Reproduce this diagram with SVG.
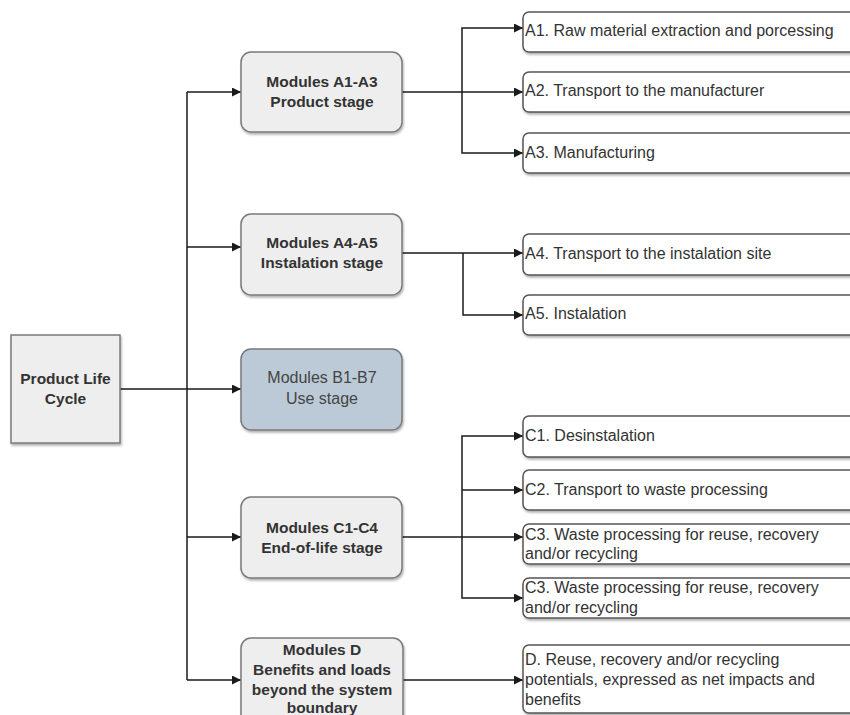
<svg xmlns="http://www.w3.org/2000/svg" width="850" height="715" viewBox="0 0 850 715">
<style>
.mod{fill:#eeeeee;stroke:#7a7a7a;stroke-width:1.5}
.use{fill:#bccad7;stroke:#7a7a7a;stroke-width:1.5}
.leaf{fill:#ffffff;stroke:#555555;stroke-width:1.5}
.bt{font-family:"Liberation Sans",Arial,sans-serif;font-size:15.5px;font-weight:bold;fill:#333333;text-anchor:middle}
.nt{font-family:"Liberation Sans",Arial,sans-serif;font-size:16px;fill:#444444;text-anchor:middle}
.lt{font-family:"Liberation Sans",Arial,sans-serif;font-size:16px;fill:#333333}
.c{fill:none;stroke:#1a1a1a;stroke-width:1.5}
</style>
<defs>
<marker id="ah" viewBox="0 0 10 10" refX="10" refY="5" markerWidth="9" markerHeight="9" markerUnits="userSpaceOnUse" orient="auto">
<path d="M0,0 L10,5 L0,10 z" fill="#1a1a1a"/>
</marker>
<filter id="sh" x="-5%" y="-10%" width="115%" height="130%">
<feDropShadow dx="1" dy="2" stdDeviation="1.2" flood-color="#000" flood-opacity="0.3"/>
</filter>
</defs>
<rect width="850" height="715" fill="#ffffff"/>

<g id="connectors">
<path class="c" d="M120,389 H241" marker-end="url(#ah)"/>
<path class="c" d="M187,92 V680"/>
<path class="c" d="M187,92 H241" marker-end="url(#ah)"/>
<path class="c" d="M187,247 H241" marker-end="url(#ah)"/>
<path class="c" d="M187,537 H241" marker-end="url(#ah)"/>
<path class="c" d="M187,680 H241" marker-end="url(#ah)"/>
<path class="c" d="M402,92 H523" marker-end="url(#ah)"/>
<path class="c" d="M462,92 V28 H523" marker-end="url(#ah)"/>
<path class="c" d="M462,92 V153 H523" marker-end="url(#ah)"/>
<path class="c" d="M402,253 H523" marker-end="url(#ah)"/>
<path class="c" d="M463,253 V315 H523" marker-end="url(#ah)"/>
<path class="c" d="M402,537 H523" marker-end="url(#ah)"/>
<path class="c" d="M462,537 V436 H523" marker-end="url(#ah)"/>
<path class="c" d="M462,490 H523" marker-end="url(#ah)"/>
<path class="c" d="M462,537 V598 H523" marker-end="url(#ah)"/>
<path class="c" d="M402,680 H523" marker-end="url(#ah)"/>
</g>

<g id="plc">
<rect class="mod" x="11" y="335" width="109" height="108" filter="url(#sh)"/>
<text class="bt" x="65.5" y="384">Product Life</text>
<text class="bt" x="65.5" y="404">Cycle</text>
</g>

<g id="modA13">
<rect class="mod" x="241" y="52" width="161" height="80" rx="10" filter="url(#sh)"/>
<text class="bt" x="322" y="87">Modules A1-A3</text>
<text class="bt" x="322" y="107">Product stage</text>
</g>
<g id="modA45">
<rect class="mod" x="241" y="214" width="161" height="81" rx="10" filter="url(#sh)"/>
<text class="bt" x="322" y="248">Modules A4-A5</text>
<text class="bt" x="322" y="268">Instalation stage</text>
</g>
<g id="modB17">
<rect class="use" x="241" y="349" width="161" height="81" rx="10" filter="url(#sh)"/>
<text class="nt" x="322" y="383">Modules B1-B7</text>
<text class="nt" x="322" y="404">Use stage</text>
</g>
<g id="modC14">
<rect class="mod" x="241" y="497" width="161" height="81" rx="10" filter="url(#sh)"/>
<text class="bt" x="322" y="533">Modules C1-C4</text>
<text class="bt" x="322" y="553">End-of-life stage</text>
</g>
<g id="modD">
<rect class="mod" x="241" y="638" width="162" height="90" rx="10" filter="url(#sh)"/>
<text class="bt" x="322" y="655">Modules D</text>
<text class="bt" x="322" y="675">Benefits and loads</text>
<text class="bt" x="322" y="695">beyond the system</text>
<text class="bt" x="322" y="713">boundary</text>
</g>

<g id="A1">
<rect class="leaf" x="523" y="12" width="340" height="40" rx="6" filter="url(#sh)"/>
<text class="lt" x="525" y="36">A1. Raw material extraction and porcessing</text>
</g>
<g id="A2">
<rect class="leaf" x="523" y="72" width="340" height="40" rx="6" filter="url(#sh)"/>
<text class="lt" x="525" y="96">A2. Transport to the manufacturer</text>
</g>
<g id="A3">
<rect class="leaf" x="523" y="133" width="340" height="40" rx="6" filter="url(#sh)"/>
<text class="lt" x="525" y="158">A3. Manufacturing</text>
</g>
<g id="A4">
<rect class="leaf" x="523" y="234" width="340" height="41" rx="6" filter="url(#sh)"/>
<text class="lt" x="525" y="259">A4. Transport to the instalation site</text>
</g>
<g id="A5">
<rect class="leaf" x="523" y="295" width="340" height="40" rx="6" filter="url(#sh)"/>
<text class="lt" x="525" y="319">A5. Instalation</text>
</g>
<g id="C1">
<rect class="leaf" x="523" y="416" width="340" height="41" rx="6" filter="url(#sh)"/>
<text class="lt" x="525" y="441">C1. Desinstalation</text>
</g>
<g id="C2">
<rect class="leaf" x="523" y="470" width="340" height="40" rx="6" filter="url(#sh)"/>
<text class="lt" x="525" y="495">C2. Transport to waste processing</text>
</g>
<g id="C3a">
<rect class="leaf" x="523" y="524" width="340" height="40" rx="6" filter="url(#sh)"/>
<text class="lt" x="525" y="540">C3. Waste processing for reuse, recovery</text>
<text class="lt" x="525" y="559">and/or recycling</text>
</g>
<g id="C3b">
<rect class="leaf" x="523" y="578" width="340" height="40" rx="6" filter="url(#sh)"/>
<text class="lt" x="525" y="593">C3. Waste processing for reuse, recovery</text>
<text class="lt" x="525" y="613">and/or recycling</text>
</g>
<g id="D">
<rect class="leaf" x="523" y="645" width="340" height="68" rx="6" filter="url(#sh)"/>
<text class="lt" x="525" y="665">D. Reuse, recovery and/or recycling</text>
<text class="lt" x="525" y="685">potentials, expressed as net impacts and</text>
<text class="lt" x="525" y="705">benefits</text>
</g>
</svg>
